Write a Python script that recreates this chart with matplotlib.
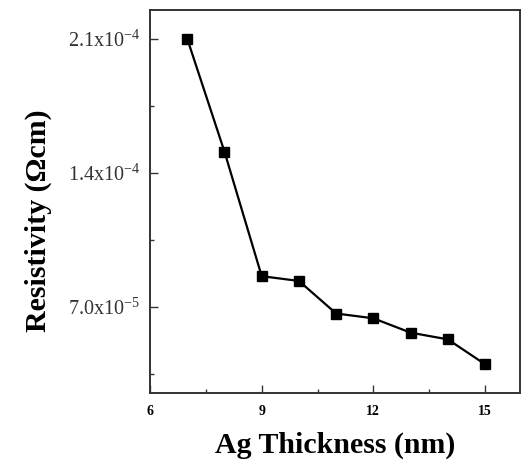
import matplotlib
matplotlib.use('Agg')
from matplotlib import pyplot as plt
from matplotlib.ticker import FixedLocator, MultipleLocator

# Ag layer thickness (nm) vs resistivity (Ohm cm)
thickness = [7, 8, 9, 10, 11, 12, 13, 14, 15]
resistivity = [2.10e-4, 1.51e-4, 8.6e-5, 8.35e-5, 6.65e-5, 6.4e-5, 5.65e-5, 5.3e-5, 4.0e-5]

y_ticks = [7.0e-5, 1.4e-4, 2.1e-4]
y_tick_labels = [r'7.0x10$^{-5}$', r'1.4x10$^{-4}$', r'2.1x10$^{-4}$']
x_ticks = [6, 9, 12, 15]

plt.rcParams['font.family'] = 'Liberation Serif'
plt.rcParams['mathtext.fontset'] = 'custom'
plt.rcParams['mathtext.rm'] = 'Liberation Serif'
plt.rcParams['mathtext.it'] = 'Liberation Serif'

fig = plt.figure(figsize=(5.22, 4.68), dpi=100)
ax = fig.add_axes([0.2874, 0.1603, 0.7096, 0.8183])

ax.plot(thickness, resistivity, color='black', lw=1.6, marker='s', ms=6.5)

ax.set_xlim(6, 15.95)
ax.set_ylim(2.5e-5, 2.25e-4)

ax.xaxis.set_major_locator(FixedLocator(x_ticks))
ax.xaxis.set_minor_locator(MultipleLocator(1.5))
ax.set_yticks(y_ticks)
ax.set_yticklabels(y_tick_labels)
ax.yaxis.set_minor_locator(MultipleLocator(3.5e-5))

ax.tick_params(which='both', direction='in', width=1, color='#333333')
ax.tick_params(which='major', length=6)
ax.tick_params(which='minor', length=3)
ax.tick_params(axis='x', pad=9, labelsize=10)
ax.tick_params(axis='y', pad=7, labelsize=14.5, labelcolor='#333333')
for lbl in ax.get_xticklabels():
    lbl.set_fontweight('bold')

for sp in ax.spines.values():
    sp.set_linewidth(1.4)
    sp.set_color('#333333')

ax.set_xlabel('Ag Thickness (nm)', fontsize=21.5, fontweight='bold')
ax.set_ylabel('Resistivity (\u03a9cm)', fontsize=21.5, fontweight='bold')
ax.xaxis.set_label_coords(0.5, -0.1)
ax.yaxis.set_label_coords(-0.265, 0.45)

fig.savefig('out.png', dpi=100)
